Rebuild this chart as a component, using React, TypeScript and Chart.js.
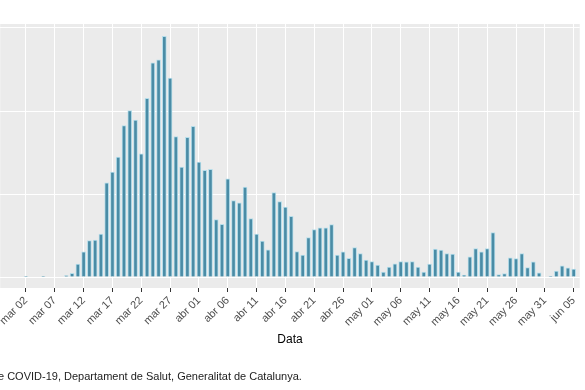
import React, { useEffect, useRef } from "react";
import { Chart, registerables } from "chart.js";

Chart.register(...registerables);

// Day 0 = 2020-03-02
const startDate = "2020-03-02";
const dailyValues = [
  5, 0, 0, 5, 0, 0, 0, 9, 22, 78,
  152, 219, 222, 258, 568, 632, 722, 912, 1002, 946,
  742, 1076, 1290, 1308, 1450, 1198, 846, 662, 842, 908,
  692, 642, 648, 346, 318, 591, 461, 447, 542, 352,
  258, 216, 164, 508, 455, 422, 366, 154, 132, 238,
  286, 296, 296, 316, 132, 152, 113, 177, 142, 102,
  93, 72, 30, 60, 80, 93, 92, 93, 60, 30,
  78, 168, 162, 142, 138, 30, 12, 122, 172, 152,
  172, 268, 15, 21, 116, 111, 142, 57, 92, 26,
  0, 6, 36, 68, 56, 48,
];
const dayIndex = dailyValues.map((_, i) => i);
const tickDays = [0, 5, 10, 15, 20, 25, 30, 35, 40, 45, 50, 55, 60, 65, 70, 75, 80, 85, 90, 95];
const tickLabels = [
  "mar 02", "mar 07", "mar 12", "mar 17", "mar 22", "mar 27",
  "abr 01", "abr 06", "abr 11", "abr 16", "abr 21", "abr 26",
  "may 01", "may 06", "may 11", "may 16", "may 21", "may 26", "may 31", "jun 05",
];
const yGridValues = [0, 500, 1000, 1500];
const xAxisTitle = "Data";
const caption = "e COVID-19, Departament de Salut, Generalitat de Catalunya.";

const FONT = '"Liberation Sans", Arial, sans-serif';

const panelPlugin = {
  id: "panelBg",
  beforeDraw(chart: any) {
    const { ctx, chartArea } = chart;
    ctx.save();
    ctx.fillStyle = "#EBEBEB";
    ctx.fillRect(chartArea.left, chartArea.top, chartArea.right - chartArea.left, chartArea.bottom - chartArea.top);
    ctx.restore();
  },
  afterDraw(chart: any) {
    const { ctx } = chart;
    ctx.save();
    ctx.font = `11px ${FONT}`;
    ctx.fillStyle = "#222222";
    ctx.textBaseline = "middle";
    ctx.textAlign = "left";
    ctx.fillText(caption, -2, 377);
    ctx.restore();
  },
};

export default function App() {
  const ref = useRef<HTMLCanvasElement | null>(null);

  useEffect(() => {
    if (!ref.current) return;
    const chart = new Chart(ref.current, {
      type: "bar",
      data: {
        datasets: [
          {
            label: startDate,
            data: dayIndex.map((d, i) => ({ x: d, y: dailyValues[i] })),
            backgroundColor: "#4A8CA6",
            borderColor: "#B5DDEA",
            borderWidth: 1,
            barThickness: 4,
          } as any,
        ],
      },
      options: {
        animation: false,
        responsive: true,
        maintainAspectRatio: false,
        layout: { padding: { top: 24, left: 0, right: 0, bottom: 0 } },
        plugins: {
          legend: { display: false },
          tooltip: { enabled: false },
        },
        scales: {
          x: {
            type: "linear",
            offset: false,
            min: -4.47,
            max: 96.05,
            grid: {
              offset: false,
              color: "#FFFFFF",
              lineWidth: 1,
              tickColor: "#333333",
              tickLength: 4,
            },
            border: { display: false },
            afterBuildTicks: (scale: any) => {
              scale.ticks = tickDays.map((v) => ({ value: v }));
            },
            ticks: {
              autoSkip: false,
              minRotation: 45,
              maxRotation: 45,
              padding: 2,
              color: "#4D4D4D",
              font: { family: FONT, size: 11 },
              callback: (value: any) => {
                const i = tickDays.indexOf(Number(value));
                return i >= 0 ? tickLabels[i] : "";
              },
            },
            title: {
              display: true,
              text: xAxisTitle,
              color: "#000000",
              font: { family: FONT, size: 12 },
              padding: { top: 0, bottom: 43 },
            },
            afterFit: (scale: any) => {
              scale.height = 102;
            },
          },
          y: {
            min: -66,
            max: 1524,
            grid: {
              color: "#FFFFFF",
              lineWidth: 1,
              drawTicks: false,
            },
            border: { display: false },
            afterBuildTicks: (scale: any) => {
              scale.ticks = yGridValues.map((v) => ({ value: v }));
            },
            ticks: { display: false },
            afterFit: (scale: any) => {
              scale.width = 0;
            },
          },
        },
      } as any,
      plugins: [panelPlugin],
    });
    return () => chart.destroy();
  }, []);

  return (
    <div style={{ position: "absolute", left: 0, top: 0, width: 585, height: 390 }}>
      <canvas ref={ref} />
    </div>
  );
}
